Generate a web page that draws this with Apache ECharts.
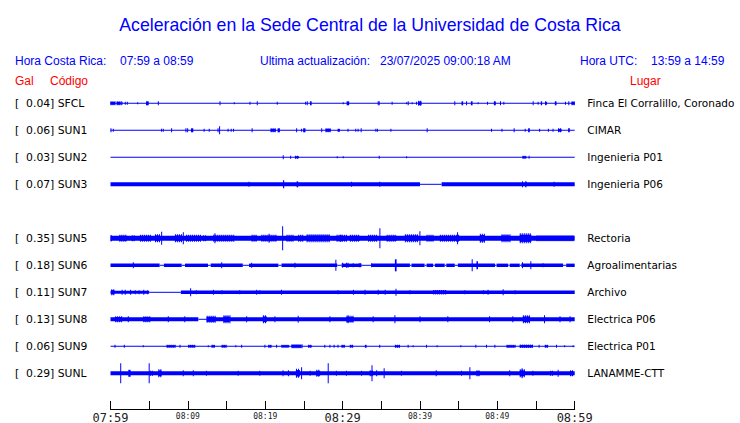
<!DOCTYPE html>
<html>
<head>
<meta charset="utf-8">
<script src="https://cdn.jsdelivr.net/npm/echarts@6/dist/echarts.min.js"></script>
<style>html,body{margin:0;padding:0;background:#fff}#c{width:740px;height:423px}</style>
</head>
<body>
<div id="c"></div>
<script>
// ---------------- DATA ----------------
const titleText = 'Aceleración en la Sede Central de la Universidad de Costa Rica';
const localRange = '07:59 a 08:59';
const utcRange = '13:59 a 14:59';
const updated = '23/07/2025 09:00:18 AM';
const tickLabels = ['07:59', '08:09', '08:19', '08:29', '08:39', '08:49', '08:59']; // every 10 min
const codes = ['SFCL', 'SUN1', 'SUN2', 'SUN3', '', 'SUN5', 'SUN6', 'SUN7', 'SUN8', 'SUN9', 'SUNL'];
const gal = ['0.04', '0.06', '0.03', '0.07', '', '0.35', '0.18', '0.11', '0.13', '0.06', '0.29'];
const places = ['Finca El Corralillo, Coronado', 'CIMAR', 'Ingenieria P01', 'Ingenieria P06', '',
  'Rectoria', 'Agroalimentarias', 'Archivo', 'Electrica P06', 'Electrica P01', 'LANAMME-CTT'];

// Background level of each trace: [startMinute, endMinute, halfAmplitude]; one row spacing = 27 amplitude units
const sfclBase = [[0,60,0.5]];
const sun1Base = [[0,60,0.5]];
const sun2Base = [[0,60,0.5]];
const sun3Base = [[0,40.0,2],[40.0,42.8,0.5],[42.8,60,2]];
const sun5Base = [[0,60,2.5]];
const sun6Base = [[0,6.35,1.7],[6.35,6.9,0.5],[6.9,9.2,1.7],[9.2,9.63,0.5],[9.63,12.6,1.7],[12.6,12.95,0.5],
  [12.95,17.1,1.7],[17.1,17.9,0.5],[17.9,21.7,1.7],[21.7,22.1,0.5],[22.1,29.3,1.7],[29.3,29.87,0.5],
  [29.87,32.45,1.7],[32.45,33.75,0.5],[33.75,38.7,1.7],[38.7,38.9,0.5],[38.9,40.6,1.7],[40.6,40.85,0.5],
  [40.85,41.7,1.7],[41.7,41.93,0.5],[41.93,43.2,1.7],[43.2,43.4,0.5],[43.4,44.5,1.7],[44.5,44.9,0.5],
  [44.9,49.7,1.7],[49.7,49.9,0.5],[49.9,51.4,1.7],[51.4,51.6,0.5],[51.6,52.9,1.7],[52.9,53.1,0.5],
  [53.1,58.5,1.7],[58.5,58.9,0.5],[58.9,60,1.7]];
const sun7Base = [[0,5.0,1.5],[5.0,9.1,0.5],[9.1,60,1.7]];
const sun8Base = [[0,11.35,2],[11.35,12.43,0.5],[12.43,60,2]];
const sun9Base = [[0,60,0.5]];
const sunlBase = [[0,60,2]];

// Peaks and bursts: [startMinute, endMinute, halfAmplitude]
const sfclPeaks = [[0,0.58,2],[0.8,1.32,2],[1.49,1.49,1.5],[1.91,1.91,1.5],[2.17,2.17,1.5],[3.51,3.51,1],
  [4.59,4.94,2],[6.18,6.18,2],[14.15,14.15,2],[16.0,16.0,1],[18.03,18.03,1.5],[18.97,18.97,2],[21.55,21.55,1.5],
  [25.22,25.22,1.5],[25.43,25.43,2],[25.78,26.0,2],[30.08,30.08,1],[30.52,30.85,2],[34.6,34.6,2],[34.73,34.73,2],
  [36.4,36.4,1.5],[38.27,38.27,1],[38.48,38.6,2],[38.99,38.99,1],[39.56,39.56,1.5],[39.77,40.2,2.5],[44.5,44.5,2],
  [45.37,45.58,2],[46.02,46.02,2],[46.58,46.8,2],[47.52,47.52,1],[48.73,48.73,1.5],[49.55,49.8,2],[50.41,50.41,2],
  [50.84,50.84,1.5],[54.63,54.63,2],[55.27,55.27,1.5],[55.62,55.79,2],[56.23,56.23,2],[56.36,56.36,1.5],
  [57.43,57.65,2],[58.81,58.81,1.5],[59.24,59.24,2],[59.6,60,2]];
const sun1Peaks = [[0.06,0.06,2],[0.36,0.36,1.5],[6.6,6.6,1.5],[6.82,6.82,1.5],[7.9,7.9,2],[9.75,9.75,2],
  [9.97,9.97,2],[10.4,10.7,2],[12.1,12.1,1.5],[12.76,12.76,1.5],[13.9,13.9,2],[14.1,14.1,4],[15.2,15.2,1.5],
  [15.6,15.6,1.5],[15.9,15.9,1.5],[18.24,18.37,2],[20.7,21.34,2],[21.6,21.9,2],[24.06,24.06,2],[24.7,24.7,1.5],
  [24.9,25.2,2],[27.3,27.3,2],[27.8,28.45,2],[29.35,29.65,1.5],[30.7,30.7,1.5],[31.7,31.7,1.5],[32.0,32.0,1.5],
  [32.4,32.5,2],[34.3,34.3,1.5],[34.5,34.5,1.5],[36.24,36.24,1.5],[40.93,40.93,2],[49.25,49.25,1.5],[50.6,50.6,1.5],
  [52.17,52.17,2],[53.6,53.6,1.5],[53.98,54.2,2],[55.46,55.46,1.5],[56.6,56.6,1.5],[57.2,57.2,1.5],[57.85,58.3,2],
  [59.15,59.37,2]];
const sun2Peaks = [[22.33,22.33,2],[23.28,23.28,1.5],[23.84,24.35,1.5],[29.3,29.3,1],[30.08,30.08,1],
  [34.73,34.73,1.5],[38.27,38.27,1],[53.26,53.77,1.5],[54.1,54.1,1.5]];
const sun3Peaks = [[17.9,17.9,2.5],[22.3,22.45,4],[24.06,24.26,3],[31.16,31.16,2.5],
  [34.8,34.8,2.5],[53.26,53.26,3],[53.6,53.77,3],[57.34,57.34,2.5]];
const sun5Peaks = [[0,0.2,3],[1.14,2.09,3.5],[2.74,3.17,3],[3.8,5.1,3.5],[5.75,6.4,4],[6.61,6.61,6.5],
  [8.33,9.2,4],[9.41,9.41,6],[9.75,11.56,3.5],[11.95,12.43,3],[13.28,15.87,3.5],[13.5,13.5,5],[18.24,18.9,3.5],
  [19.5,21.47,3.5],[20.5,20.5,4.5],[22.25,22.25,12],[22.76,23.6,3.5],[24.26,24.9,3.5],[25.35,28.36,4],
  [29.22,29.87,3.5],[29.65,30.52,3.5],[30.94,32.23,3.5],[33.3,34.4,3.5],[34.82,34.82,10],[35.7,36.98,3.5],
  [38.05,39.77,4],[39.99,39.99,7],[40.85,41.7,3.5],[42.57,45.15,3.5],[44.86,44.86,6],[47.74,48.39,4.5],
  [50.54,51.6,4],[52.9,54.4,5],[55.06,59.8,3]];
const sun6Peaks = [[2.95,2.95,3],[14.37,14.37,3],[18.24,18.24,2.5],[23.84,23.84,2.5],[29.13,29.22,5.5],[30.0,30.0,2.5],
  [30.5,30.5,2.5],[30.7,30.7,2.5],[31.37,31.37,2],[32.15,32.15,2],[32.3,32.3,2],[33.75,33.75,2],[36.76,36.98,6],
  [46.75,46.75,6],[47.3,47.5,4],[53.25,53.25,3],[54.33,54.33,4],[55.9,55.9,2]];
const sun7Peaks = [[0.1,0.5,3],[1.5,1.5,2.5],[1.9,1.9,2.5],[2.6,2.6,2.5],
  [3.2,3.2,2],[3.7,3.7,2],[4.3,4.3,2.5],[4.8,4.8,2],[10.36,10.36,4],[11.1,11.1,2],[13.3,13.3,2.5],[14.4,14.4,2],
  [16.7,16.7,2],[18.9,18.9,2.5],[19.3,19.3,2],[22.1,22.1,2.5],[29.4,29.4,2],[31.4,31.4,2.5],[32.9,32.9,2.5],
  [34.6,34.6,2.5],[35.5,35.5,2.5],[36.9,36.9,3.5],[38.7,38.7,2],[41.7,43.4,2.3],[45.8,45.8,2],[48.2,48.2,2],
  [48.8,48.8,2.5],[50.75,50.75,3],[52.3,52.3,2]];
const sun8Peaks = [[0.6,1.45,3],[2.3,2.3,3],[4.24,5.1,3],[7.47,7.47,3],
  [9.6,9.6,3],[12.43,13.5,3.5],[14.6,15.4,4],[17.6,17.6,3],[19.7,20.2,4],[21.25,21.25,3],[24.26,24.26,3.5],
  [28.36,28.36,3],[30.5,31.4,3.5],[30.7,30.7,4],[33.95,33.95,3],[36.76,36.76,4],[40.0,40.0,3],[43.6,43.6,3],
  [49.0,49.0,3],[52.0,52.0,3],[53.3,54.2,4],[56.1,56.1,4],[58.1,58.1,3],[59.4,59.4,3]];
const sun9Peaks = [[0.58,0.58,1.5],[1.78,1.78,1.5],[4.24,4.24,1],[7.26,8.33,1.5],[8.98,8.98,1.5],
  [10.05,10.92,1.5],[12.64,12.64,1],[13.07,13.5,1.5],[14.37,14.92,1.5],[16.2,16.2,1],[16.95,16.95,1.5],
  [19.96,19.96,1.5],[20.4,20.8,1.5],[21.47,21.47,1.5],[22.1,23.1,1.5],[23.4,24.7,2],[25.55,26.0,1.5],
  [27.7,27.7,1.5],[28.36,28.36,1.5],[28.9,28.9,1.5],[29.4,29.4,1.5],[29.87,30.3,1.5],[30.94,31.37,1.5],
  [32.88,33.1,1.5],[34.8,34.8,1.5],[36.76,37.4,1.5],[38.47,38.47,1.5],[39.12,39.12,1],[40.85,40.85,1.5],
  [42.22,42.22,1],[45.28,45.28,1],[47.22,47.22,1.5],[48.6,48.6,1.5],[49.68,49.68,1.5],[51.2,52.26,1.5],
  [52.9,54.6,1.7],[55.4,55.4,1.5],[56.14,56.56,1.5],[57.65,57.65,1.5],[58.7,58.7,1],[59.8,59.8,1]];
const sunlPeaks = [[1.32,1.32,10],[2.3,2.6,3.5],[5.0,5.0,10],[5.1,5.5,2.5],[6.18,6.6,4],[9.4,9.4,3],
  [10.7,10.7,3],[12.4,12.4,2.5],[16.5,16.5,2.5],[19.3,19.3,2.5],[22.3,22.3,3],[23.0,23.0,3],[23.97,24.48,4.5],
  [24.7,24.7,6],[25.8,25.8,2.5],[26.6,27.1,3.5],[28.14,28.14,10],[29.2,29.2,2.5],[30.5,30.5,2.5],[32.45,32.45,2.5],
  [33.5,33.95,3],[33.8,33.8,8],[34.4,34.4,3],[35.37,35.37,5],[37.6,37.6,2.5],[42.1,42.1,3],[45.37,45.37,2.5],
  [46.45,46.45,6],[47.3,47.74,3],[51.6,51.6,3],[52.9,53.55,4],[53.2,53.2,5],[54.6,54.6,2.5],[56.8,57.2,2.5],
  [57.86,57.86,3.5],[59.4,59.8,3]];

const baseTraces = [sfclBase, sun1Base, sun2Base, sun3Base, null, sun5Base, sun6Base, sun7Base, sun8Base, sun9Base, sunlBase];
const peakTraces = [sfclPeaks, sun1Peaks, sun2Peaks, sun3Peaks, null, sun5Peaks, sun6Peaks, sun7Peaks, sun8Peaks, sun9Peaks, sunlPeaks];

// ---------------- LAYOUT / STYLE ----------------
const BLUE = '#0000ff', RED = '#ff0000';
const AMP_PER_ROW = 27;
const plotLeft = 110.5, plotRight = 574.7, rowTop = 89.8, rowH = 27, axisY = 409;
const nRows = codes.length;
const gridBottom = 423 - (rowTop + rowH * nRows);

const leftLabels = codes.map((c, i) => c ? '[\u00a0\u00a0' + gal[i] + ']\u00a0' + c : '');

function flatten(list) {
  const out = [];
  list.forEach((tr, row) => { if (tr) tr.forEach(s => out.push([s[0], s[1], s[2], row])); });
  return out;
}

function makeRender(textured) {
  return function (params, api) {
    const row = api.value(3);
    const p0 = api.coord([api.value(0), row]);
    const p1 = api.coord([api.value(1), row]);
    const band = api.size([0, 1])[1];
    const hp = api.value(2) / AMP_PER_ROW * band;
    let x = p0[0], w = p1[0] - p0[0];
    const cy = p0[1];
    if (w < 1) { x = p0[0] - 0.5; w = 1; }
    if (!textured || w < 3) {
      return { type: 'rect', shape: { x: x, y: cy - hp, width: w, height: 2 * hp }, style: { fill: BLUE }, silent: true };
    }
    // bursts: solid core with a comb of vertical strokes reaching the full amplitude
    const children = [{ type: 'rect', shape: { x: x, y: cy - hp * 0.72, width: w, height: 2 * hp * 0.72 }, style: { fill: BLUE } }];
    for (let xi = x; xi < x + w; xi += 2) {
      children.push({ type: 'rect', shape: { x: xi, y: cy - hp, width: 1, height: 2 * hp }, style: { fill: BLUE } });
    }
    return { type: 'group', children: children, silent: true };
  };
}

function txt(text, x, y, color, align) {
  return { type: 'text', x: x, y: y, silent: true,
    style: { text: text, fill: color, font: '12px "Liberation Sans", Arial, sans-serif',
      textAlign: align || 'left', textVerticalAlign: 'middle', align: align || 'left', verticalAlign: 'middle' } };
}

const chart = echarts.init(document.getElementById('c'), null, { renderer: 'svg', width: 740, height: 423 });
chart.setOption({
  animation: false,
  backgroundColor: '#ffffff',
  title: { text: titleText, left: 'center', top: 11,
    textStyle: { color: BLUE, fontFamily: '"Liberation Sans", Arial, sans-serif', fontSize: 17.7, fontWeight: 'normal' } },
  graphic: [
    txt('Hora Costa Rica:', 15, 61, BLUE), txt(localRange, 120, 61, BLUE),
    txt('Ultima actualización:', 260, 61, BLUE), txt(updated, 380, 61, BLUE),
    txt('Hora UTC:', 580, 61, BLUE), txt(utcRange, 651, 61, BLUE),
    txt('Gal', 15, 81, RED), txt('Código', 50, 81, RED), txt('Lugar', 630, 81, RED)
  ],
  grid: { left: plotLeft, right: 740 - plotRight, top: rowTop, bottom: gridBottom,
    containLabel: false, outerBoundsMode: 'none' },
  xAxis: {
    type: 'value', min: 0, max: 60, interval: 5, position: 'bottom', offset: axisY - (rowTop + rowH * nRows),
    axisLine: { show: true, lineStyle: { color: '#000', width: 1 } },
    axisTick: { show: true, inside: true, length: 8, lineStyle: { color: '#000', width: 1 } },
    splitLine: { show: false },
    axisLabel: {
      show: true, margin: 2, showMinLabel: true, showMaxLabel: true, hideOverlap: false,
      formatter: function (v) {
        if (v % 10 !== 0) return '';
        const l = tickLabels[v / 10];
        return v % 30 === 0 ? '{big|' + l + '}' : '{small|' + l + '}';
      },
      rich: {
        big: { fontFamily: '"DejaVu Sans Mono", monospace', fontSize: 12, color: '#222', lineHeight: 13 },
        small: { fontFamily: '"DejaVu Sans Mono", monospace', fontSize: 8, color: '#222', lineHeight: 9, padding: [2, 0, 0, 0] }
      }
    }
  },
  yAxis: [
    { type: 'category', data: leftLabels, inverse: true, position: 'left',
      axisLine: { show: false }, axisTick: { show: false }, splitLine: { show: false },
      axisLabel: { align: 'left', margin: plotLeft - 15, color: '#000', fontFamily: '"DejaVu Sans", sans-serif', fontSize: 10.8, interval: 0 } },
    { type: 'category', data: places, inverse: true, position: 'right',
      axisLine: { show: false }, axisTick: { show: false }, splitLine: { show: false },
      axisLabel: { align: 'left', margin: 587.3 - plotRight, color: '#000', fontFamily: '"DejaVu Sans", sans-serif', fontSize: 10.5, interval: 0 } }
  ],
  series: [
    { type: 'custom', renderItem: makeRender(false), xAxisIndex: 0, yAxisIndex: 0,
      encode: { x: [0, 1], y: 3 }, data: flatten(baseTraces), clip: false },
    { type: 'custom', renderItem: makeRender(true), xAxisIndex: 0, yAxisIndex: 0,
      encode: { x: [0, 1], y: 3 }, data: flatten(peakTraces), clip: false }
  ]
});
</script>
</body>
</html>
